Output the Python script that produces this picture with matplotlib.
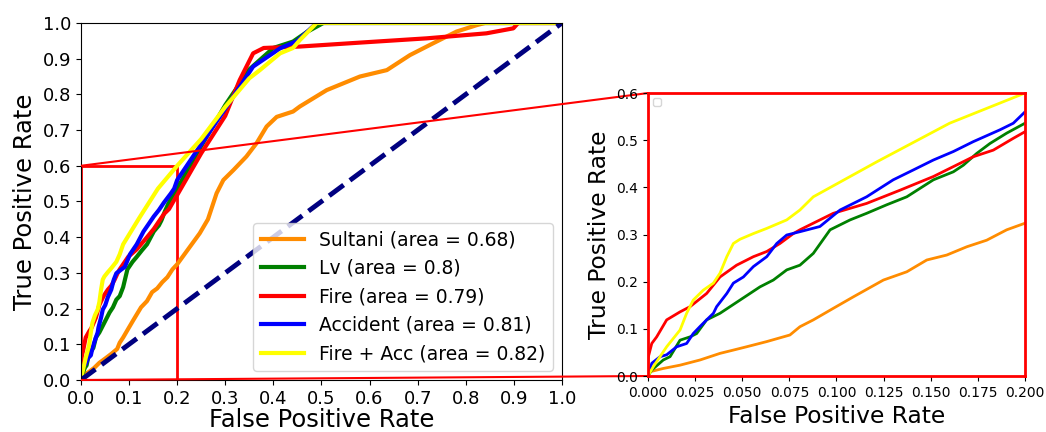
import matplotlib
matplotlib.use("Agg")
import matplotlib.pyplot as plt
from mpl_toolkits.axes_grid1.inset_locator import mark_inset

# ROC curves (false positive rate, true positive rate)
sultani_fpr = [0, .001, .0081, .017, .0276, .0382, .0453, .0523, .063, .0753, .0806, .0877,
               .0983, .109, .1249, .1373, .1479, .1585, .1691, .1797, .1903, .2,
               .247, .264, .282, .296, .317, .344, .365, .386, .407, .441, .455, .511,
               .58, .636, .684, .732, .781, .823, .84, 1.0]
sultani_tpr = [0, .009, .016, .023, .034, .048, .055, .062, .073, .087, .1045, .119,
               .1435, .168, .2035, .221, .246, .2565, .274, .288, .31, .324,
               .411, .45, .523, .56, .588, .626, .663, .71, .737, .752, .766, .812,
               .85, .868, .91, .943, .976, .994, 1.0, 1.0]

lv_fpr = [0, .002, .0081, .0117, .017, .0223, .0258, .0311, .0382, .0488, .0594, .0665,
          .0736, .0806, .0877, .0966, .1072, .116, .1266, .1373, .1514, .162, .1673,
          .1744, .1814, .1903, .2, .25, .3, .35, .4, .441, .47, .504, 1.0]
lv_tpr = [0, .0127, .034, .041, .076, .083, .09, .119, .133, .161, .189, .2035,
          .225, .235, .26, .31, .331, .345, .363, .38, .416, .433, .447,
          .472, .493, .515, .536, .655, .77, .87, .93, .948, .975, 1.0, 1.0]

fire_fpr = [0, 0, .0002, .002, .0046, .0099, .017, .0223, .0311, .0382, .047, .0559, .063,
            .07, .0771, .0806, .0983, .116, .1337, .1514, .162, .1726, .1832, .1938, .2,
            .25, .3, .33, .358, .38, .455, .58, .719, .843, .899, .909, 1.0]
fire_tpr = [0, .03, .041, .069, .083, .119, .136, .147, .175, .21, .235, .253, .264,
            .281, .302, .31, .345, .366, .394, .423, .444, .465, .479, .504, .518,
            .635, .74, .84, .915, .93, .934, .945, .957, .971, .985, 1.0, 1.0]

acc_fpr = [0, .0002, .002, .0064, .0099, .0152, .0205, .024, .0276, .0311, .0347, .0364,
           .0418, .0453, .0506, .0559, .063, .0683, .0736, .0806, .0912, .1019, .116,
           .1301, .1408, .1514, .162, .1726, .1867, .1938, .2, .25, .3, .358, .414,
           .45, .49, 1.0]
acc_tpr = [0, .002, .027, .041, .045, .062, .069, .09, .105, .119, .133, .147,
           .175, .197, .21, .232, .253, .281, .299, .306, .317, .352, .38,
           .416, .437, .458, .476, .497, .522, .536, .56, .66, .76, .878, .929,
           .95, 1.0, 1.0]

fireacc_fpr = [0, .0028, .0099, .017, .0205, .024, .0293, .0347, .0382, .0418, .0453, .0488,
               .0559, .063, .0736, .0806, .0877, .1213, .160, .2, .25, .3, .35, .372,
               .414, .441, .455, .49, 1.0]
fireacc_tpr = [0, .0198, .062, .0975, .133, .161, .182, .197, .218, .253, .281, .29,
               .302, .313, .331, .352, .38, .454, .536, .6, .675, .765, .845, .868,
               .915, .93, .952, 1.0, 1.0]

curves = [
    ("Sultani", 0.68, sultani_fpr, sultani_tpr, "darkorange"),
    ("Lv", 0.8, lv_fpr, lv_tpr, "green"),
    ("Fire", 0.79, fire_fpr, fire_tpr, "red"),
    ("Accident", 0.81, acc_fpr, acc_tpr, "blue"),
    ("Fire + Acc", 0.82, fireacc_fpr, fireacc_tpr, "yellow"),
]

main_ticks = [i / 10 for i in range(11)]
zoom_xticks = [0.0, 0.025, 0.05, 0.075, 0.1, 0.125, 0.15, 0.175, 0.2]
zoom_yticks = [0.0, 0.1, 0.2, 0.3, 0.4, 0.5, 0.6]

fig = plt.figure(figsize=(10.46, 4.32), dpi=100)
ax = fig.add_axes([0.0774, 0.1204, 0.4598, 0.8264])
axins = fig.add_axes([0.6195, 0.1296, 0.3604, 0.655])

# main ROC plot
for name, area, fpr, tpr, color in curves:
    ax.plot(fpr, tpr, color=color, lw=3, label=f"{name} (area = {area})")
ax.plot([0, 1], [0, 1], color="navy", lw=3.5, linestyle="--")
ax.set_xlim(0, 1)
ax.set_ylim(0, 1)
ax.set_xticks(main_ticks)
ax.set_yticks(main_ticks)
ax.tick_params(labelsize=13)
ax.set_xlabel("False Positive Rate", fontsize=17.5, labelpad=0)
ax.set_ylabel("True Positive Rate", fontsize=17.5)
ax.legend(loc="lower right", fontsize=13.5, handlelength=2.3)

# zoomed inset
for name, area, fpr, tpr, color in curves:
    axins.plot(fpr, tpr, color=color, lw=2)
axins.set_xlim(0, 0.2)
axins.set_ylim(0, 0.6)
axins.set_xticks(zoom_xticks)
axins.set_xticklabels([f"{v:.3f}" for v in zoom_xticks])
axins.set_yticks(zoom_yticks)
axins.tick_params(labelsize=10)
axins.set_xlabel("False Positive Rate", fontsize=16.8)
axins.set_ylabel("True Positive Rate", fontsize=16.8)
for sp in axins.spines.values():
    sp.set_color("red")
    sp.set_linewidth(2)
axins.legend(handles=[], loc="upper left", fontsize=7)

box, con1, con2 = mark_inset(ax, axins, loc1=2, loc2=3, fc="none", ec="red", lw=2)
con1.set_linewidth(1.5)
con2.set_linewidth(1.5)

fig.savefig("out.png", dpi=100)
